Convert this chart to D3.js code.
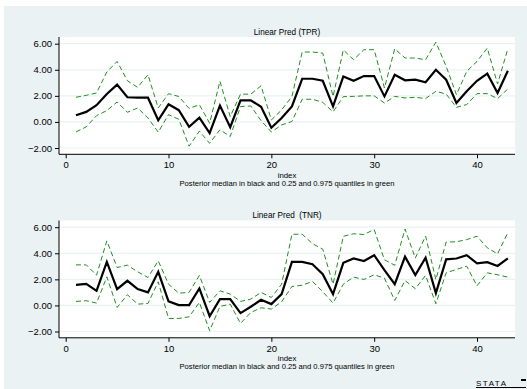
<!DOCTYPE html>
<html>
<head>
<meta charset="utf-8">
<script src="https://cdn.jsdelivr.net/npm/d3@7"></script>
<style>
  body { margin: 0; background: #fff; }
  text { font-family: "Liberation Sans", Arial, sans-serif; fill: #000; }
</style>
</head>
<body>
<div id="chart-area"></div>
<script>
const W = 527
const H = 389

// observation index 1..43
const index = [1, 2, 3, 4, 5, 6, 7, 8, 9, 10, 11, 12, 13, 14, 15, 16, 17, 18, 19, 20, 21,
  22, 23, 24, 25, 26, 27, 28, 29, 30, 31, 32, 33, 34, 35, 36, 37, 38, 39, 40, 41, 42, 43]

const yTicks = [-2, 0, 2, 4, 6]
const xTicks = [0, 10, 20, 30, 40]

// TPR panel
const tprMedian = [0.51, 0.77, 1.28, 2.14, 2.86, 1.89, 1.86, 1.86, 0.13, 1.35, 0.90, -0.38, 0.33, -0.86,
  1.25, -0.40, 1.66, 1.66, 1.16, -0.45, 0.30, 1.19, 3.31, 3.31, 3.16, 1.19, 3.49, 3.16, 3.52, 3.52,
  1.96, 3.62, 3.19, 3.24, 3.04, 4.00, 3.24, 1.45, 2.35, 3.16, 3.70, 2.22, 3.93]
const tprLow = [-0.77, -0.38, 0.48, 0.87, 1.53, 0.74, 1.07, 0.31, -0.79, 0.56, 0.20, -1.86, -0.71, -1.64,
  -0.60, -1.12, 1.18, 1.22, 0.10, -0.77, -0.23, 0.03, 1.74, 1.74, 1.50, 0.77, 1.94, 1.96, 2.00, 2.00,
  1.45, 1.96, 1.84, 1.89, 1.79, 2.35, 2.14, 1.12, 1.33, 2.17, 2.17, 1.79, 2.53]
const tprHigh = [1.89, 2.04, 2.22, 3.83, 4.64, 3.16, 2.65, 3.62, 1.07, 2.17, 1.95, 1.03, 1.32, -0.10,
  3.12, 0.41, 2.13, 2.13, 2.77, 0.15, 0.92, 1.95, 5.36, 5.36, 5.28, 1.95, 5.52, 4.77, 5.54, 5.54,
  2.60, 5.61, 4.90, 4.90, 4.77, 6.12, 4.26, 2.09, 3.88, 4.64, 5.66, 2.91, 5.61]

// TNR panel
const tnrMedian = [1.58, 1.66, 1.12, 3.34, 1.25, 1.89, 1.25, 1.00, 2.58, 0.31, 0.03, 0.03, 1.30, -0.83,
  0.48, 0.48, -0.59, -0.10, 0.43, 0.10, 0.87, 3.34, 3.34, 3.16, 2.40, 0.86, 3.27, 3.60, 3.41, 3.85,
  2.70, 1.63, 3.74, 2.33, 3.66, 0.94, 3.53, 3.60, 3.85, 3.22, 3.32, 3.03, 3.61]
const tnrLow = [0.31, 0.36, 0.18, 2.19, -0.15, 0.82, 0.10, 0.15, 1.81, -1.00, -1.00, -0.87, 0.23, -1.94,
  -0.08, 0.10, -1.38, -0.54, -0.18, -0.28, 0.28, 1.45, 1.55, 1.84, 1.05, 0.18, 1.63, 2.17, 1.99, 2.35,
  2.09, 0.38, 1.91, 1.28, 2.30, 0.13, 2.50, 2.76, 3.01, 1.50, 2.50, 2.35, 2.17]
const tnrHigh = [3.11, 3.11, 2.32, 4.95, 2.91, 3.09, 2.58, 2.14, 3.42, 1.63, 0.94, 1.00, 2.30, 0.23,
  1.12, 0.87, 0.31, 0.48, 1.00, 0.61, 1.63, 5.46, 5.46, 4.74, 4.31, 1.63, 5.30, 5.50, 5.44, 5.82,
  3.50, 3.08, 5.86, 3.63, 5.32, 1.98, 4.86, 4.88, 5.05, 5.31, 4.42, 3.95, 5.58]

const NOTE = "Posterior median in black and 0.25 and 0.975 quantiles in green"
const BG = "#eaf2f3"
const GREEN = "#1f8f1f"

const svg = d3.select("#chart-area").append("svg")
  .attr("width", W)
  .attr("height", H)

svg.append("rect")
  .attr("x", 4).attr("y", 6)
  .attr("width", W - 4).attr("height", H - 6)
  .attr("fill", BG)

// plot region in panel coords
const PLOT = {LEFT: 59, RIGHT: 515, TOP: 37, BOTTOM: 154.3}

const x = d3.scaleLinear()
  .domain([0, 40])
  .range([65.7, 477])

function drawPanel (offset, title, median, low, high) {
  const g = svg.append("g")
    .attr("transform", `translate(0, ${offset})`)

  const y = d3.scaleLinear()
    .domain([-2, 6])
    .range([148, 43.7])

  g.append("rect")
    .attr("x", PLOT.LEFT).attr("y", PLOT.TOP)
    .attr("width", PLOT.RIGHT - PLOT.LEFT)
    .attr("height", PLOT.BOTTOM - PLOT.TOP)
    .attr("fill", "#fff")

  // gridlines
  g.selectAll(".grid").data(yTicks).enter().append("line")
    .attr("x1", PLOT.LEFT).attr("x2", PLOT.RIGHT)
    .attr("y1", d => y(d)).attr("y2", d => y(d))
    .attr("stroke", BG)
    .attr("stroke-width", 1.2)

  const yAxis = d3.axisLeft(y)
    .tickValues(yTicks)
    .tickFormat(d3.format(".2f"))
    .tickSize(4)
    .tickPadding(3)
    .tickSizeOuter(0)

  const yG = g.append("g")
    .attr("transform", `translate(${PLOT.LEFT}, 0)`)
    .call(yAxis)
  yG.select(".domain").attr("d", `M0,${PLOT.TOP}V${PLOT.BOTTOM}`)

  const xAxis = d3.axisBottom(x)
    .tickValues(xTicks)
    .tickSize(4)
    .tickPadding(3)
    .tickSizeOuter(0)

  const xG = g.append("g")
    .attr("transform", `translate(0, ${PLOT.BOTTOM})`)
    .call(xAxis)
  xG.select(".domain").attr("d", `M${PLOT.LEFT},0H${PLOT.RIGHT}`)

  g.selectAll(".tick text")
    .attr("font-size", "9.5px")
    .attr("font-family", "Liberation Sans, Arial, sans-serif")
    .attr("fill", "#000")
  g.selectAll(".domain, .tick line").attr("stroke", "#000")

  const line = d3.line()
    .x((d, i) => x(index[i]))
    .y(d => y(d))

  g.append("path")
    .datum(low)
    .attr("d", line)
    .attr("fill", "none")
    .attr("stroke", GREEN)
    .attr("stroke-width", 1)
    .attr("stroke-dasharray", "5,3")

  g.append("path")
    .datum(high)
    .attr("d", line)
    .attr("fill", "none")
    .attr("stroke", GREEN)
    .attr("stroke-width", 1)
    .attr("stroke-dasharray", "5,3")

  g.append("path")
    .datum(median)
    .attr("d", line)
    .attr("fill", "none")
    .attr("stroke", "#000")
    .attr("stroke-width", 2.2)
    .attr("stroke-linejoin", "miter")

  const cx = (PLOT.LEFT + PLOT.RIGHT) / 2

  g.append("text")
    .attr("x", cx).attr("y", 34.5)
    .attr("text-anchor", "middle")
    .attr("font-size", "8.2px")
    .style("white-space", "pre")
    .text(title)

  g.append("text")
    .attr("x", cx).attr("y", 177.5)
    .attr("text-anchor", "middle")
    .attr("font-size", "7.8px")
    .text("index")

  g.append("text")
    .attr("x", cx).attr("y", 185.5)
    .attr("text-anchor", "middle")
    .attr("font-size", "7.6px")
    .text(NOTE)
}

drawPanel(0, "Linear Pred (TPR)", tprMedian, tprLow, tprHigh)
drawPanel(183.5, "Linear Pred  (TNR)", tnrMedian, tnrLow, tnrHigh)

// stata logo
const logo = svg.append("g").attr("transform", "translate(476, 386)")
logo.append("text")
  .attr("x", 0).attr("y", 0)
  .attr("font-size", "8px")
  .attr("font-family", "DejaVu Sans Mono, monospace")
  .attr("letter-spacing", "1.5px")
  .text("STATA")
logo.append("line")
  .attr("x1", 0).attr("x2", 50)
  .attr("y1", 1.5).attr("y2", 1.5)
  .attr("stroke", "#000")
  .attr("stroke-width", 1)
logo.append("rect")
  .attr("x", 45).attr("y", -7)
  .attr("width", 5).attr("height", 2)
  .attr("fill", "#000")
</script>
</body>
</html>
